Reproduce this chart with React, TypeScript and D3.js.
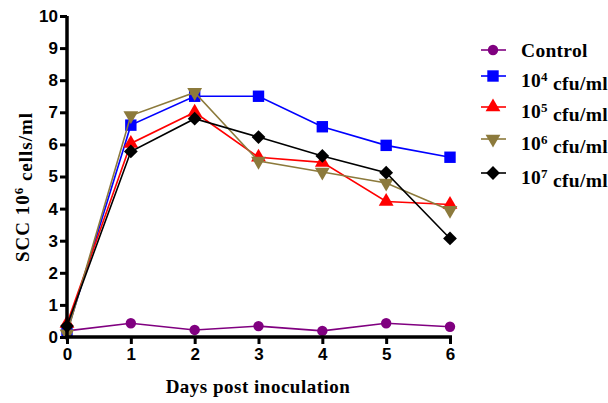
import { useRef, useEffect } from "react";
import * as d3 from "d3";

const days = [0, 1, 2, 3, 4, 5, 6];
const yTicks = [0, 1, 2, 3, 4, 5, 6, 7, 8, 9, 10];

const control = [0.19, 0.43, 0.22, 0.34, 0.19, 0.43, 0.32];
const cfu4 = [0.15, 6.6, 7.5, 7.5, 6.55, 5.97, 5.6];
const cfu5 = [0.42, 6.03, 7.0, 5.6, 5.44, 4.22, 4.13];
const cfu6 = [0.1, 6.9, 7.62, 5.48, 5.14, 4.8, 3.95];
const cfu7 = [0.34, 5.78, 6.8, 6.23, 5.64, 5.12, 3.07];

const seriesNames = ["Control", "10^4", "10^5", "10^6", "10^7"];
const seriesColors = ["#800080", "#0000ff", "#ff0000", "#8c7a3c", "#000000"];
const seriesShapes = ["circle", "square", "triangle", "triangleDown", "diamond"];
const seriesData = [control, cfu4, cfu5, cfu6, cfu7];

const margin = { top: 16, right: 158, bottom: 66, left: 67 };
const WIDTH = 608 - margin.left - margin.right;
const HEIGHT = 403 - margin.top - margin.bottom;

const serif = "'Liberation Serif', 'Times New Roman', serif";

const symbolPath = (shape: string) => {
  switch (shape) {
    case "circle":
      return d3.symbol(d3.symbolCircle, 85)();
    case "square":
      return d3.symbol(d3.symbolSquare, 130)();
    case "triangle":
    case "triangleDown":
      return d3.symbol(d3.symbolTriangle, 95)();
    default:
      return d3.symbol(d3.symbolSquare, 95)();
  }
};

const symbolRotate = (shape: string) =>
  shape === "triangleDown" ? " rotate(180)" : shape === "diamond" ? " rotate(45)" : "";

function App() {
  const svgRef = useRef<SVGSVGElement>(null);

  useEffect(() => {
    const svg = d3.select(svgRef.current);
    const g = svg.select(".chart");

    const x = d3.scaleLinear().domain([0, 6]).range([0, WIDTH]);
    const y = d3.scaleLinear().domain([0, 10]).range([HEIGHT, 0]);

    // axes
    const xAxis = g.select<SVGGElement>(".x-axis")
      .attr("transform", `translate(0,${HEIGHT})`)
      .call(d3.axisBottom(x).tickValues(days).tickSize(7).tickPadding(4).tickFormat(d3.format("d")));
    const yAxis = g.select<SVGGElement>(".y-axis")
      .call(d3.axisLeft(y).tickValues(yTicks).tickSize(7).tickPadding(2).tickFormat(d3.format("d")));

    [xAxis, yAxis].forEach(a => {
      a.select(".domain").attr("stroke", "#000").attr("stroke-width", 3.5);
      a.selectAll(".tick line").attr("stroke", "#000").attr("stroke-width", 3);
      a.selectAll(".tick text")
        .attr("fill", "#000")
        .style("font-family", "'Liberation Sans', Arial, sans-serif")
        .style("font-size", "17px")
        .style("font-weight", "bold");
    });
    xAxis.select(".domain").attr("d", `M-2,0H${WIDTH + 2}`);
    yAxis.select(".domain").attr("d", `M0,${HEIGHT + 2}V0`);

    // lines + markers
    const line = d3.line<number>().x((_, i) => x(days[i])).y(d => y(d));

    const series = g.select(".plot")
      .selectAll(".series")
      .data(seriesData)
      .join("g")
      .attr("class", "series");

    series.append("path")
      .attr("d", d => line(d))
      .attr("fill", "none")
      .attr("stroke", (_, i) => seriesColors[i])
      .attr("stroke-width", 1.6);

    series.each(function (d, si) {
      d3.select(this)
        .selectAll(".pt")
        .data(d)
        .join("path")
        .attr("class", "pt")
        .attr("d", symbolPath(seriesShapes[si]))
        .attr("transform", (v, i) => `translate(${x(days[i])},${y(v)})` + symbolRotate(seriesShapes[si]))
        .attr("fill", seriesColors[si]);
    });

    // legend
    const legendY = [50, 76, 107, 139, 173];
    const legend = svg.select(".legend")
      .selectAll(".item")
      .data(seriesNames)
      .join("g")
      .attr("class", "item")
      .attr("transform", (_, i) => `translate(493,${legendY[i]})`);

    legend.append("line")
      .attr("x1", -12).attr("x2", 13)
      .attr("stroke", (_, i) => seriesColors[i])
      .attr("stroke-width", 1.6);
    legend.append("path")
      .attr("d", (_, i) => symbolPath(seriesShapes[i]))
      .attr("transform", (_, i) => symbolRotate(seriesShapes[i]))
      .attr("fill", (_, i) => seriesColors[i]);

    const lt = legend.append("text")
      .attr("x", 28)
      .attr("y", d => (d === "Control" ? 7 : 11))
      .style("font-family", serif)
      .style("font-size", "19.5px")
      .style("font-weight", "bold")
      .style("letter-spacing", "0.3px");
    lt.each(function (d) {
      const t = d3.select(this);
      if (d === "Control") {
        t.text("Control");
      } else {
        t.append("tspan").text("10");
        t.append("tspan").attr("dy", "-0.45em").style("font-size", "13px").text(d.slice(3));
        t.append("tspan").attr("dy", "0.45em").text(" cfu/ml");
      }
    });
  }, []);

  return (
    <svg ref={svgRef} width={608} height={403}
      style={{ position: "absolute", left: 0, top: 0, background: "#fff" }}>
      <g className="chart" transform={`translate(${margin.left},${margin.top})`}>
        <g className="plot" />
        <g className="x-axis" />
        <g className="y-axis" />
      </g>
      <g className="legend" />
      <text x={258} y={393} textAnchor="middle"
        style={{ fontFamily: serif, fontSize: "19px", fontWeight: "bold", letterSpacing: "0.5px" }}>
        Days post inoculation
      </text>
      <text transform="translate(29,187) rotate(-90)" textAnchor="middle"
        style={{ fontFamily: serif, fontSize: "19px", fontWeight: "bold", letterSpacing: "1px" }}>
        SCC 10<tspan dy="-0.45em" style={{ fontSize: "13px" }}>6</tspan>
        <tspan dy="0.45em"> cells/ml</tspan>
      </text>
    </svg>
  );
}

export default App;
